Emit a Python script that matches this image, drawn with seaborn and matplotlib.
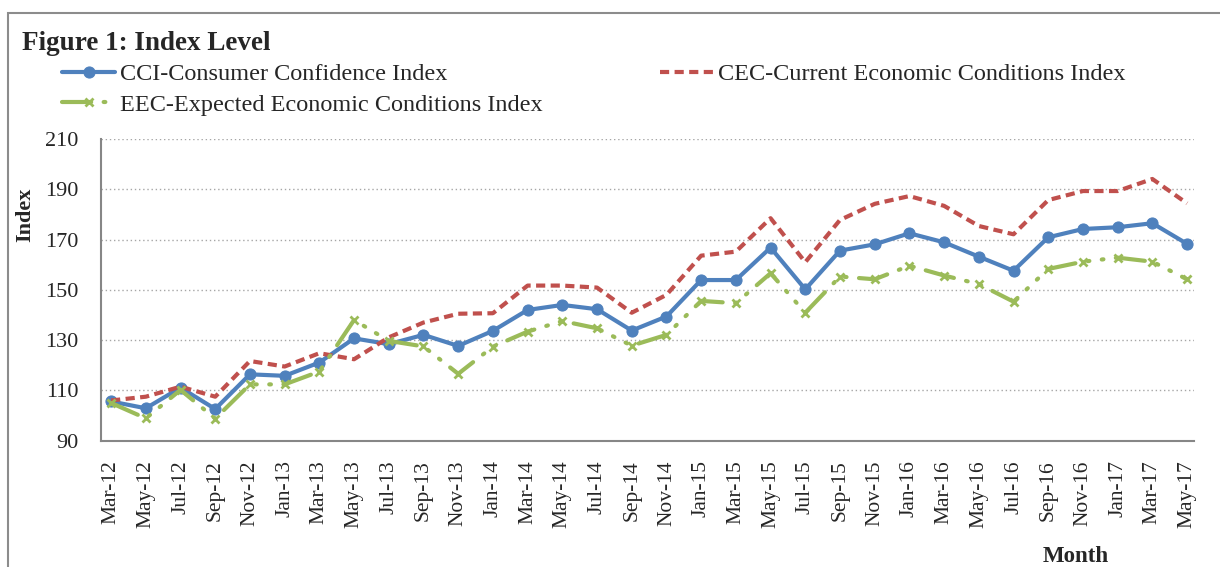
import numpy as np
import pandas as pd
import matplotlib
matplotlib.use("Agg")
import matplotlib.pyplot as plt
import seaborn as sns
from matplotlib.patches import Rectangle

months = ["Mar-12", "May-12", "Jul-12", "Sep-12", "Nov-12",
          "Jan-13", "Mar-13", "May-13", "Jul-13", "Sep-13", "Nov-13",
          "Jan-14", "Mar-14", "May-14", "Jul-14", "Sep-14", "Nov-14",
          "Jan-15", "Mar-15", "May-15", "Jul-15", "Sep-15", "Nov-15",
          "Jan-16", "Mar-16", "May-16", "Jul-16", "Sep-16", "Nov-16",
          "Jan-17", "Mar-17", "May-17"]

cci = [105.6, 102.9, 111.1, 102.6, 116.4, 115.8, 121.1, 130.7, 128.4, 132.1, 127.7,
       133.7, 142.0, 144.0, 142.3, 133.8, 139.4, 153.9, 153.9, 166.8, 150.2, 165.6,
       168.1, 172.5, 168.9, 163.2, 157.6, 170.9, 174.2, 174.9, 176.5, 168.3]

cec = [106.0, 107.5, 111.5, 107.5, 121.7, 119.5, 124.8, 122.4, 131.1, 137.0, 140.5,
       140.7, 151.7, 151.7, 150.9, 140.9, 148.0, 163.6, 165.2, 178.5, 161.0, 177.8,
       184.2, 187.3, 183.4, 175.4, 172.1, 185.7, 189.3, 189.3, 194.1, 184.4]

eec = [105.0, 98.9, 110.2, 98.8, 112.4, 112.4, 117.5, 138.0, 129.7, 127.5, 116.6,
       127.4, 133.4, 137.6, 134.7, 127.8, 132.1, 145.6, 144.7, 156.6, 140.9, 155.3,
       154.2, 159.6, 155.7, 152.3, 145.3, 158.3, 161.2, 162.8, 161.2, 154.2]

labels = ["CCI-Consumer Confidence Index",
          "CEC-Current Economic Conditions Index",
          "EEC-Expected Economic Conditions Index"]

yticks = [90, 110, 130, 150, 170, 190, 210]

sns.set_style("white")
plt.rcParams["font.family"] = ["Liberation Serif", "DejaVu Serif"]

W, H = 1220, 567
fig = plt.figure(figsize=(W / 100, H / 100), dpi=100)
ax = fig.add_axes([100.7 / W, 1 - 440.7 / H, (1194 - 100.7) / W, (440.7 - 139) / H])

n = len(months)
idx = np.arange(n)
xpos = idx + 0.3  # data sit a little after each month's tick (date axis)
df = pd.DataFrame({"x": xpos, "CCI": cci, "CEC": cec, "EEC": eec})

blue, red, green = "#4F81BD", "#C0504D", "#9BBB59"

sns.lineplot(data=df, x="x", y="CCI", ax=ax, color=blue, lw=3,
             marker="o", markersize=8, markeredgecolor=blue, label=labels[0])
l_cec = sns.lineplot(data=df, x="x", y="CEC", ax=ax, color=red, lw=3, label=labels[1]).lines[-1]
l_cec.set_dashes((2.2, 1.3))
l_eec = sns.lineplot(data=df, x="x", y="EEC", ax=ax, color=green, lw=3,
                     marker="x", markersize=6, markeredgewidth=2, markeredgecolor=green,
                     label=labels[2]).lines[-1]
l_eec.set_dashes((7, 3, 0.4, 3, 0.4, 3))
l_eec.set_dash_capstyle("round")

ax.set_xlim(0, 31.5)
ax.set_ylim(90, 210)
ax.set_yticks(yticks)
ax.set_yticklabels([str(v) for v in yticks], fontsize=16)
ax.set_xticks(xpos)
ax.set_xticklabels(months, rotation=90, fontsize=15.5)
ax.set_xticks(idx, minor=True)
ax.tick_params(axis="x", which="major", length=0, pad=14)
ax.tick_params(axis="x", which="minor", length=7, width=1.5, color="#868686", direction="out")
ax.tick_params(axis="y", which="major", length=6, width=1.5, color="#868686", direction="out", pad=10)
ax.grid(False)
for v in yticks[1:]:
    ax.axhline(v, color="#A6A6A6", lw=1, ls=(0, (1, 2)), zorder=0)

for s in ["top", "right"]:
    ax.spines[s].set_visible(False)
for s in ["left", "bottom"]:
    ax.spines[s].set_color("#868686")
    ax.spines[s].set_linewidth(1.5)

ax.set_xlabel("")
ax.set_ylabel("")
fig.text(25 / W, 1 - 215 / H, "Index", fontsize=16, fontweight="bold", rotation=90,
         ha="center", va="center")
fig.text(1076 / W, 1 - 556 / H, "Month", fontsize=16.5, fontweight="bold", ha="center", va="center")
fig.text(22 / W, 1 - 44 / H, "Figure 1: Index Level", fontsize=19.5, fontweight="bold",
         ha="left", va="center")

h, l = ax.get_legend_handles_labels()
order = [0, 2, 1]
ax.legend([h[i] for i in order], [l[i] for i in order], ncol=2, loc="upper left",
          bbox_to_anchor=(62 / W, 1 - 63 / H), bbox_transform=fig.transFigure,
          frameon=False, fontsize=17.5, handlelength=2.2, handletextpad=0.2,
          columnspacing=4.8, labelspacing=0.35, borderaxespad=0, borderpad=0)

fig.patches.append(Rectangle((8 / W, -0.1), 1.1, 1 - 13 / H + 0.1, transform=fig.transFigure,
                             fill=False, edgecolor="#8C8C8C", lw=1.5))

fig.savefig("out.png", dpi=100)
